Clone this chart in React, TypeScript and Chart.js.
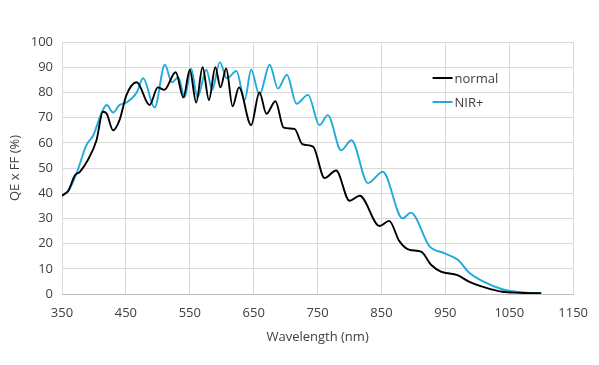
import React, { useEffect, useRef } from "react";
import { Chart, registerables } from "chart.js";

Chart.register(...registerables);

const normalWavelengths = [350, 360, 370, 378, 390, 404, 414, 420, 430, 440, 451, 467, 487, 500, 510, 528, 540, 550, 560, 570, 580, 590, 598, 607, 617, 627, 646, 659, 670, 684, 697, 714, 726, 743, 761, 779, 800, 816, 847, 862, 878, 894, 912, 928, 943, 969, 987, 1013, 1039, 1066, 1100];
const normalValues = [39, 41, 47, 48.5, 53, 61, 72.3, 71.5, 65, 69, 79, 84, 75, 82, 81, 88, 78, 89, 76, 90, 77, 90, 82, 89.5, 74.5, 82, 67, 80, 71.5, 76.5, 66, 65.5, 59.5, 58.5, 46, 49, 37, 39, 27, 29, 21, 17.5, 16.8, 11.5, 8.9, 7.5, 4.9, 2.5, 0.9, 0.5, 0.3];

const nirWavelengths = [350, 360, 373, 388, 399, 412, 420, 430, 440, 451, 467, 477, 495, 511, 522, 532, 542, 552, 562, 576, 585, 597, 608, 623, 636, 646, 659, 675, 688, 702, 717, 735, 753, 766, 787, 803, 829, 852, 883, 896, 925, 948, 970, 987, 1013, 1039, 1066, 1100];
const nirValues = [39.3, 41, 48, 59, 63, 72, 75, 72, 75, 76, 80, 85.6, 74, 91, 84, 86, 78, 89.5, 78, 89, 81, 92, 85.5, 88.5, 77, 89, 79, 91, 81.5, 87, 75.5, 79, 67, 71, 57, 61, 44, 48.5, 30, 32.3, 19, 16.2, 13.5, 8.5, 4.5, 1.9, 0.7, 0.3];

const seriesLabels = ["normal", "NIR+"];
const seriesColors = ["#000000", "#22aad8"];
const xTitle = "Wavelength (nm)";
const yTitle = "QE x FF (%)";

const FONT = "'Open Sans', 'Liberation Sans', sans-serif";
const TEXT = "#404040";

const toPoints = (xs: number[], ys: number[]) => xs.map((x, i) => ({ x, y: ys[i] }));

const insideLegend = {
  id: "insideLegend",
  afterDraw(chart: any) {
    const ctx = chart.ctx;
    const area = chart.chartArea;
    const x0 = area.left + (area.right - area.left) * 0.725;
    ctx.save();
    ctx.font = `13px ${FONT}`;
    ctx.textBaseline = "middle";
    ctx.textAlign = "left";
    chart.data.datasets.forEach((ds: any, i: number) => {
      const y = area.top + 36 + i * 24;
      ctx.strokeStyle = ds.borderColor;
      ctx.lineWidth = 2;
      ctx.beginPath();
      ctx.moveTo(x0, y);
      ctx.lineTo(x0 + 20, y);
      ctx.stroke();
      ctx.fillStyle = TEXT;
      ctx.fillText(ds.label, x0 + 22, y + 1);
    });
    ctx.restore();
  },
};

export default function App() {
  const ref = useRef<HTMLCanvasElement | null>(null);
  useEffect(() => {
    if (!ref.current) return;
    const chart = new Chart(ref.current, {
      type: "line",
      data: {
        datasets: [
          {
            label: seriesLabels[0],
            data: toPoints(normalWavelengths, normalValues),
            borderColor: seriesColors[0],
            borderWidth: 1.9,
            pointRadius: 0,
            cubicInterpolationMode: "monotone",
          },
          {
            label: seriesLabels[1],
            data: toPoints(nirWavelengths, nirValues),
            borderColor: seriesColors[1],
            borderWidth: 1.9,
            pointRadius: 0,
            cubicInterpolationMode: "monotone",
          },
        ],
      },
      options: {
        responsive: false,
        animation: false,
        layout: { padding: { left: 0, right: 25, top: 42, bottom: 0 } },
        plugins: { legend: { display: false }, tooltip: { enabled: false } },
        scales: {
          x: {
            type: "linear",
            min: 350,
            max: 1150,
            ticks: { stepSize: 100, padding: 11, color: TEXT, font: { family: FONT, size: 13 }, callback: (v: any) => String(v) },
            grid: { color: "#d9d9d9", drawTicks: false },
            border: { color: "#bfbfbf" },
            title: { display: true, text: xTitle, color: TEXT, font: { family: FONT, size: 13 }, padding: { top: 4, bottom: 20 } },
            afterFit: (s: any) => { s.height = 71; },
          },
          y: {
            min: 0,
            max: 100,
            ticks: { stepSize: 10, padding: 9, color: TEXT, font: { family: FONT, size: 13 }, callback: (v: any) => String(v) },
            grid: { color: "#d9d9d9", drawTicks: false },
            border: { display: false },
            title: { display: true, text: yTitle, color: TEXT, font: { family: FONT, size: 13 }, padding: { top: 7, bottom: 0 } },
            afterFit: (s: any) => { s.width = 62; },
          },
        },
      },
      plugins: [insideLegend],
    } as any);
    return () => chart.destroy();
  }, []);
  return (
    <div style={{ position: "fixed", left: 0, top: 0, width: 599, height: 365, background: "#fff" }}>
      <canvas ref={ref} width={599} height={365} />
    </div>
  );
}
